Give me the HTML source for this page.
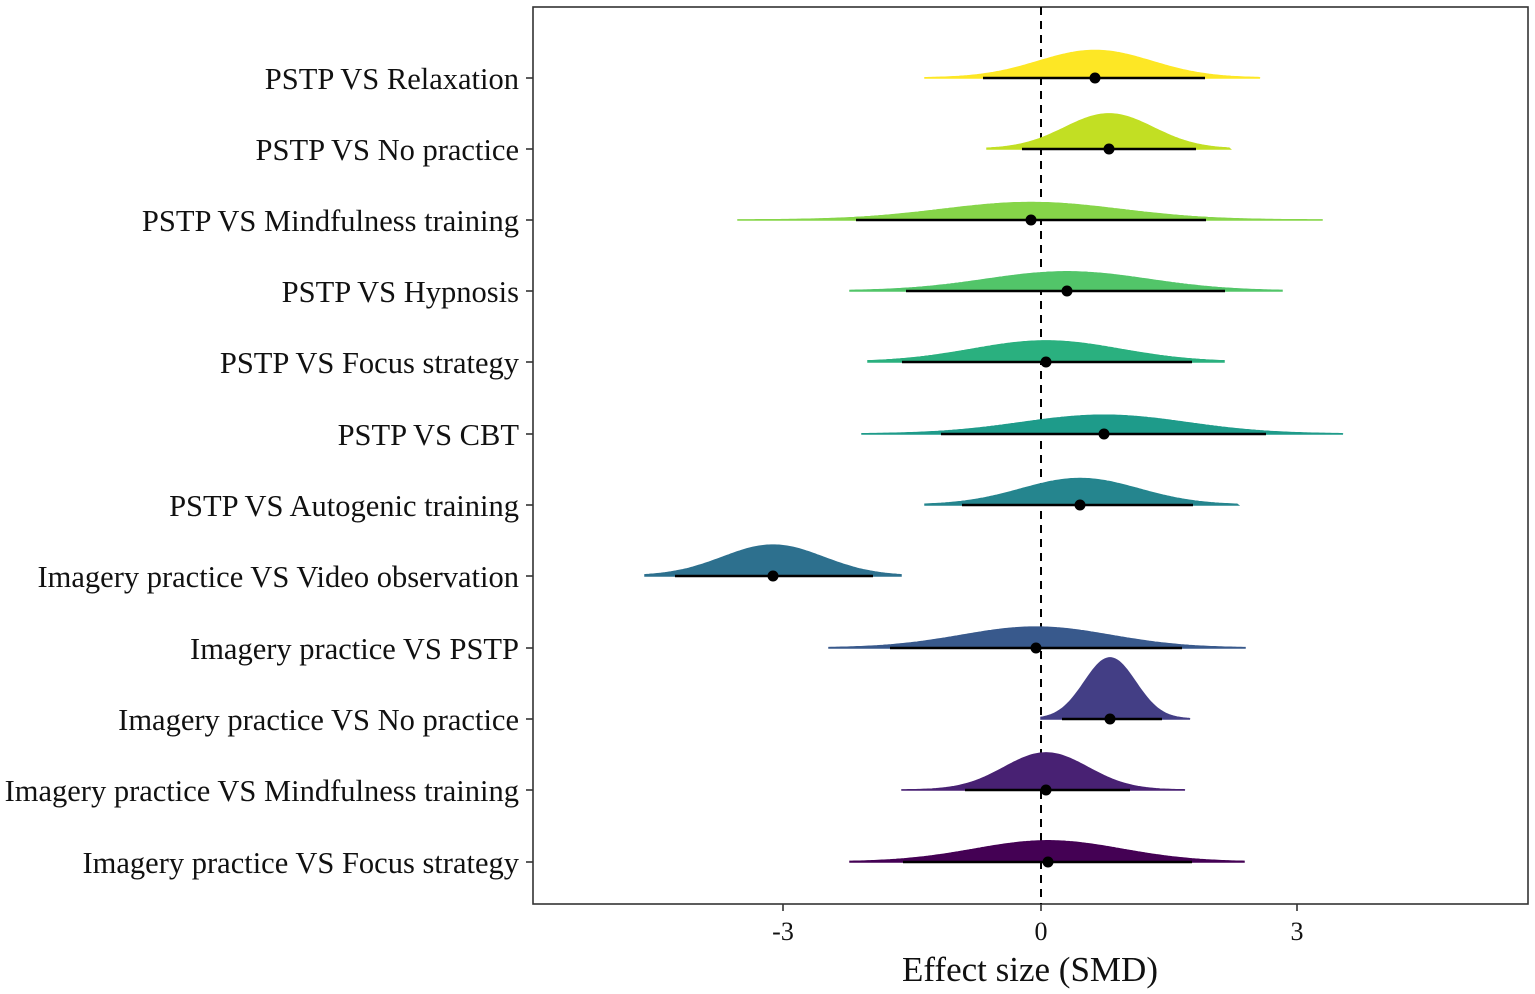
<!DOCTYPE html>
<html><head><meta charset="utf-8"><style>
html,body{margin:0;padding:0;background:#fff;}
svg{display:block;}
text{font-family:"Liberation Serif",serif;fill:#111;}
</style></head><body>
<svg id="s" width="1535" height="994" viewBox="0 0 1535 994" xmlns="http://www.w3.org/2000/svg">
<rect x="533" y="7" width="995" height="897" fill="none" stroke="#333" stroke-width="1.6"/>
<line x1="1041" y1="7" x2="1041" y2="904" stroke="#000" stroke-width="2" stroke-dasharray="8,6"/>
<g id="rows"></g>
<g stroke="#333" stroke-width="1.6">
<line x1="783" y1="904" x2="783" y2="911"/><line x1="1041" y1="904" x2="1041" y2="911"/><line x1="1297" y1="904" x2="1297" y2="911"/>
</g>
<text x="783" y="940" font-size="26" text-anchor="middle">-3</text>
<text x="1041" y="940" font-size="26" text-anchor="middle">0</text>
<text x="1297" y="940" font-size="26" text-anchor="middle">3</text>
<text x="1030" y="981" font-size="35" text-anchor="middle">Effect size (SMD)</text>
</svg>
<script>
var rows=[
["PSTP VS Relaxation",78,1095,983,1205,925,1260,"#FDE725"],
["PSTP VS No practice",149,1109,1022,1196,987,1230,"#C2DF23"],
["PSTP VS Mindfulness training",220,1031,856,1206,738,1322,"#86D549"],
["PSTP VS Hypnosis",291,1067,906,1225,850,1282,"#52C569"],
["PSTP VS Focus strategy",362,1046,902,1192,868,1224,"#2AB07F"],
["PSTP VS CBT",434,1104,941,1266,862,1343,"#1E9B8A"],
["PSTP VS Autogenic training",505,1080,962,1193,925,1238,"#25858E"],
["Imagery practice VS Video observation",576,773,675,873,645,901,"#2D708E"],
["Imagery practice VS PSTP",648,1036,890,1182,829,1245,"#38598C"],
["Imagery practice VS No practice",719,1110,1062,1162,1041,1190,"#433E85"],
["Imagery practice VS Mindfulness training",790,1046,965,1130,902,1185,"#482173"],
["Imagery practice VS Focus strategy",862,1048,903,1192,850,1244,"#440154"]];
var g=document.getElementById("rows"),h="";
rows.forEach(function(r){
 var y=r[1],m=r[2],sd=(r[4]-r[3])/3.92,pk=1560/sd,d="M"+r[5]+","+y;
 for(var x=r[5];x<=r[6];x+=2){var v=pk*Math.exp(-0.5*Math.pow((x-m)/sd,2));d+=" L"+x+","+(y-v).toFixed(1);}
 d+=" L"+r[6]+","+y+" Z";
 h+='<path d="'+d+'" fill="'+r[7]+'" stroke="'+r[7]+'" stroke-width="1.5"/>';
 h+='<line x1="'+r[3]+'" y1="'+y+'" x2="'+r[4]+'" y2="'+y+'" stroke="#000" stroke-width="2.6"/>';
 h+='<circle cx="'+m+'" cy="'+y+'" r="5.5" fill="#000"/>';
 h+='<line x1="526" y1="'+y+'" x2="533" y2="'+y+'" stroke="#333" stroke-width="1.6"/>';
 h+='<text x="519" y="'+(y+11)+'" font-size="30.5" text-anchor="end">'+r[0]+'</text>';
});
g.innerHTML=h;
</script>
</body></html>
